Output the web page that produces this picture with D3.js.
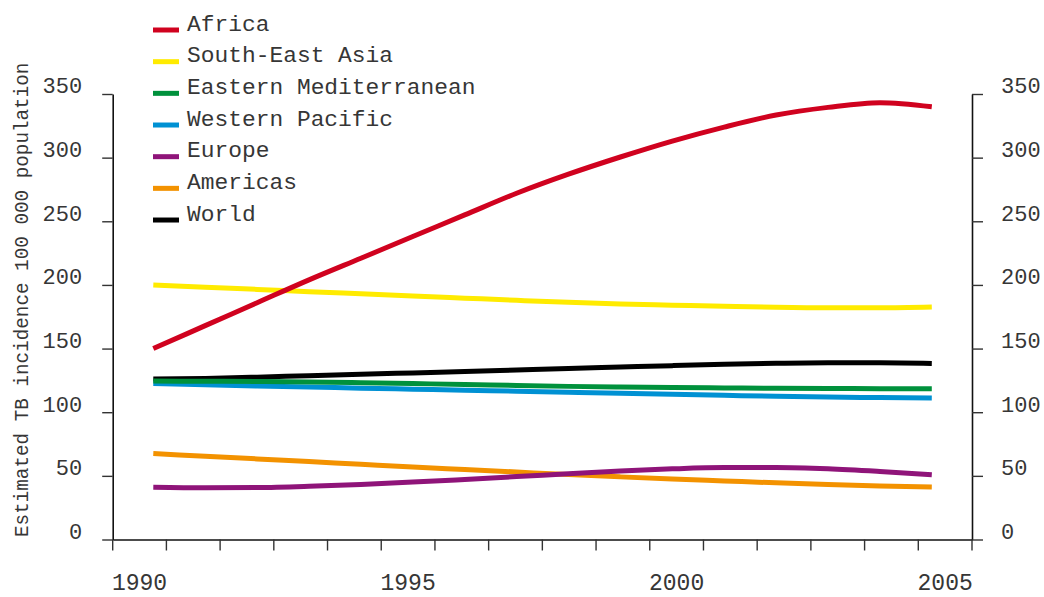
<!DOCTYPE html>
<html>
<head>
<meta charset="utf-8">
<script src="https://cdn.jsdelivr.net/npm/d3@7"></script>
<style>
  body { margin: 0; background: #fff; }
  svg { display: block; }
  text { font-family: "Liberation Mono", "DejaVu Sans Mono", monospace; fill: #363636; }
</style>
</head>
<body>
<svg id="chart" width="1044" height="597"></svg>
<script>
const YEARS = [1990, 1991, 1992, 1993, 1994, 1995, 1996, 1997, 1998, 1999, 2000, 2001, 2002, 2003, 2004, 2005];
const YEAR_LABELS = [1990, 1995, 2000, 2005];
const Y_TICKS = [0, 50, 100, 150, 200, 250, 300, 350];

const SERIES_NAMES = ["Africa", "South-East Asia", "Eastern Mediterranean", "Western Pacific", "Europe", "Americas", "World"];
const SERIES_COLORS = ["#d0021f", "#ffeb00", "#00913c", "#0091d3", "#8f1479", "#f39200", "#000000"];

const AFRICA = [150, 168, 186, 204, 221, 238, 255, 272, 287, 300.5, 313, 324, 333.5, 339.5, 343.2, 340];
const SOUTH_EAST_ASIA = [200, 198.2, 196.5, 194.7, 193, 191.3, 189.6, 187.9, 186.3, 185, 184.1, 183.2, 182.4, 182, 182, 182.6];
const EASTERN_MED = [124.5, 124.3, 124.1, 123.8, 123.2, 122.5, 121.8, 121, 120.3, 119.8, 119.4, 119.1, 118.8, 118.6, 118.5, 118.4];
const WESTERN_PACIFIC = [122.5, 121.5, 120.6, 119.8, 118.9, 118.1, 117.3, 116.5, 115.7, 114.9, 114.1, 113.3, 112.5, 111.9, 111.5, 111.1];
const EUROPE = [41, 40.6, 40.8, 41.8, 43.3, 45.1, 47.2, 49.4, 51.7, 53.9, 55.5, 56.5, 56.6, 55.6, 53.5, 50.9];
const AMERICAS = [67.5, 65.4, 63.3, 61.2, 59.1, 57, 55, 53, 51, 49.2, 47.5, 46, 44.5, 43.2, 42.1, 41.2];
const WORLD = [126, 126.5, 127.5, 128.7, 129.8, 130.9, 132, 133.2, 134.4, 135.5, 136.6, 137.6, 138.4, 138.8, 138.8, 138.3];

const SERIES_VALUES = [AFRICA, SOUTH_EAST_ASIA, EASTERN_MED, WESTERN_PACIFIC, EUROPE, AMERICAS, WORLD];


class ChartPresenter {

  constructor(svgId) {
    const self = this;
    self._svg = d3.select(svgId);

    self._left = 112.7;
    self._right = 972;
    self._top = 94;
    self._bottom = 539.5;

    self._bandScale = d3.scaleBand()
      .domain(YEARS)
      .range([self._left, self._right]);

    self._xScale = d3.scaleLinear()
      .domain([YEARS[0], YEARS[YEARS.length - 1]])
      .range([153.3, 931.8]);

    self._yScale = d3.scaleLinear()
      .domain([0, 350])
      .range([self._bottom, self._top]);
  }

  draw() {
    const self = this;
    self._drawAxes();
    self._drawLines();
    self._drawLegend();
    self._drawTitle();
  }

  _styleAxis(axisGroup) {
    axisGroup.select(".domain").attr("stroke", "#111").attr("stroke-width", 1.6);
    axisGroup.selectAll(".tick line").attr("stroke", "#333").attr("stroke-width", 1.4);
    axisGroup.selectAll(".tick text")
      .attr("font-size", 22)
      .attr("font-family", "Liberation Mono")
      .attr("fill", "#363636");
  }

  _drawAxes() {
    const self = this;

    const leftAxis = d3.axisLeft(self._yScale)
      .tickValues(Y_TICKS)
      .tickSize(10.5)
      .tickSizeOuter(0)
      .tickPadding(20);

    const leftGroup = self._svg.append("g")
      .attr("transform", "translate(" + self._left + ",0)")
      .call(leftAxis);
    self._styleAxis(leftGroup);
    leftGroup.selectAll(".tick text").attr("dy", "-0.05em");

    const rightAxis = d3.axisRight(self._yScale)
      .tickValues(Y_TICKS)
      .tickSize(11)
      .tickSizeOuter(0)
      .tickPadding(18);

    const rightGroup = self._svg.append("g")
      .attr("transform", "translate(" + self._right + ",0)")
      .call(rightAxis);
    self._styleAxis(rightGroup);
    rightGroup.selectAll(".tick text").attr("dy", "-0.05em");

    // year labels sit in the middle of each band, tick marks on the band edges
    const bottomAxis = d3.axisBottom(self._bandScale)
      .tickValues(YEAR_LABELS)
      .tickSize(0)
      .tickSizeOuter(0)
      .tickPadding(38);

    const bottomGroup = self._svg.append("g")
      .attr("transform", "translate(0," + self._bottom + ")")
      .call(bottomAxis);
    self._styleAxis(bottomGroup);
    bottomGroup.selectAll(".tick text").attr("font-size", 23).attr("dy", "0.55em");

    const edges = YEARS.map((year) => self._bandScale(year)).concat([self._right]);
    bottomGroup.selectAll(".band-edge")
      .data(edges)
      .enter()
      .append("line")
      .classed("band-edge", true)
      .attr("x1", (x) => x)
      .attr("x2", (x) => x)
      .attr("y1", 0)
      .attr("y2", 11)
      .attr("stroke", "#333")
      .attr("stroke-width", 1.4);
  }

  _drawLines() {
    const self = this;

    const lineGen = d3.line()
      .x((d) => self._xScale(d[0]))
      .y((d) => self._yScale(d[1]))
      .curve(d3.curveMonotoneX);

    const order = d3.range(SERIES_NAMES.length).reverse();

    self._svg.append("g")
      .selectAll(".series")
      .data(order)
      .enter()
      .append("path")
      .classed("series", true)
      .attr("fill", "none")
      .attr("stroke", (i) => SERIES_COLORS[i])
      .attr("stroke-width", 5)
      .attr("d", (i) => lineGen(YEARS.map((year, j) => [year, SERIES_VALUES[i][j]])));
  }

  _drawLegend() {
    const self = this;

    const rows = self._svg.append("g")
      .selectAll(".legend-row")
      .data(SERIES_NAMES)
      .enter()
      .append("g")
      .classed("legend-row", true)
      .attr("transform", (name, i) => "translate(153," + (30 + i * 31.67) + ")");

    rows.append("line")
      .attr("x1", 0)
      .attr("x2", 26)
      .attr("stroke", (name, i) => SERIES_COLORS[i])
      .attr("stroke-width", 5);

    rows.append("text")
      .attr("x", 34)
      .attr("y", 0.5)
      .attr("font-size", 22.9)
      .text((name) => name);
  }

  _drawTitle() {
    const self = this;

    self._svg.append("text")
      .attr("transform", "translate(28,537) rotate(-90)")
      .attr("font-size", 19.3)
      .text("Estimated TB incidence 100 000 population");
  }

}


const presenter = new ChartPresenter("#chart");
presenter.draw();
</script>
</body>
</html>
